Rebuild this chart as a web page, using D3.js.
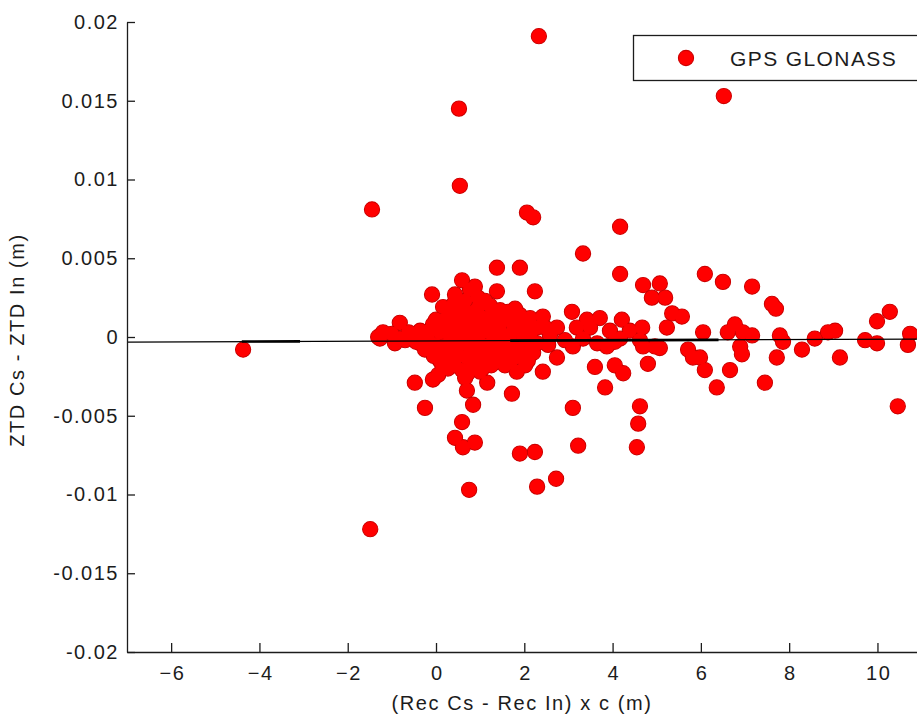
<!DOCTYPE html>
<html>
<head>
<meta charset="utf-8">
<script src="https://cdn.jsdelivr.net/npm/d3@7"></script>
<style>
  body { margin: 0; background: #fff; }
  svg { display: block; }
</style>
</head>
<body>
<script>
// scattered / outlying points  [recDiff (m), ztdDiff (m)]
var sparsePts = [
  [2.33,0.0191],[0.52,0.0145],[6.52,0.0153],[0.54,0.0096],[-1.45,0.0081],[2.06,0.0079],
  [2.20,0.0076],[4.17,0.0070],[3.33,0.0053],[4.17,0.0040],[1.38,0.0044],[1.90,0.0044],
  [2.24,0.0029],[0.59,0.0036],[0.88,0.0032],[1.38,0.0029],[-0.09,0.0027],[0.16,0.0019],
  [-0.82,0.0009],[-1.20,0.0003],[-1.31,0.0000],
  [-4.37,-0.0008],[-1.49,-0.0122],[0.75,-0.0097],[2.29,-0.0095],[2.72,-0.0090],[1.90,-0.0074],
  [2.24,-0.0073],[3.22,-0.0069],[3.10,-0.0045],[4.55,-0.0070],[4.58,-0.0055],[4.62,-0.0044],
  [0.59,-0.0054],[0.43,-0.0064],[0.61,-0.0070],[0.88,-0.0067],[-0.25,-0.0045],[-0.48,-0.0029],
  [-0.07,-0.0027],[0.05,-0.0024],[0.70,-0.0034],[0.84,-0.0043],[1.16,-0.0029],[1.72,-0.0036]
];

// dense cluster around 0..2.3 m
var corePts = [
  [-1.27,-0.0001],[-1.00,0.0002],[-0.70,-0.0002],[-0.54,0.0001],[-0.36,0.0004],[-0.36,-0.0004],
  [-0.18,-0.0001],[-0.07,0.0008],[0.00,-0.0005],[0.09,0.0003],[0.20,0.0011],[0.20,-0.0010],
  [0.32,-0.0002],[0.36,0.0006],[0.43,-0.0013],[0.50,0.0014],[0.54,-0.0005],[0.59,0.0003],
  [0.66,0.0023],[0.72,0.0011],[0.77,-0.0008],[0.82,-0.0018],[0.91,0.0017],[0.95,-0.0001],
  [1.00,0.0008],[1.04,-0.0011],[1.11,0.0023],[1.18,-0.0005],[1.22,0.0003],[1.27,0.0014],
  [1.34,-0.0016],[1.40,-0.0002],[1.45,0.0008],[1.56,-0.0008],[1.63,0.0016],[1.68,0.0001],
  [1.72,0.0010],[1.79,-0.0013],[1.86,-0.0005],[1.90,0.0014],[1.95,0.0004],[2.02,-0.0018],
  [2.08,-0.0002],[2.13,0.0012],[2.20,-0.0010],[2.29,0.0006],
  [0.32,0.0017],[0.43,0.0027],[0.77,0.0030],[0.09,-0.0015],[0.27,-0.0020],[0.59,-0.0021],
  [1.00,-0.0022],[1.56,-0.0018],[1.83,-0.0022],[2.08,-0.0015],[-0.25,-0.0008],[-0.93,-0.0004],
  [0.77,0.0001],[1.22,0.0020],[1.45,0.0017],[1.79,0.0018],[0.66,-0.0026],[0.43,-0.0018],
  [0.05,0.0005],[0.14,-0.0006],[0.25,0.0004],[0.30,0.0009],[0.38,-0.0008],[0.45,0.0002],
  [0.48,0.0009],[0.52,-0.0012],[0.62,0.0007],[0.64,-0.0003],[0.68,0.0016],[0.70,-0.0013],
  [0.80,0.0005],[0.84,0.0013],[0.86,-0.0005],[0.90,-0.0014],[0.98,0.0020],[1.02,0.0003],
  [1.08,0.0012],[1.10,-0.0006],[1.14,-0.0016],[1.16,0.0007],[1.28,-0.0010],[1.30,0.0006],
  [1.36,0.0011],[1.42,-0.0008],[1.50,0.0002],[1.52,-0.0013],[1.58,0.0011],[1.62,-0.0004],
  [1.74,-0.0006],[1.76,0.0005],[1.84,0.0009],[1.92,-0.0010],[1.98,0.0000],[2.04,0.0008],
  [2.14,0.0002],[2.16,-0.0005],[0.58,0.0019],[0.40,0.0021],[0.95,0.0025],[1.05,-0.0020],
  [0.72,-0.0023],[0.36,-0.0016],[-0.15,0.0004],[-0.28,0.0000],[-0.45,-0.0003],[0.00,0.0011],
  [-0.05,-0.0012],[0.15,-0.0019],[-0.62,0.0003],[-0.82,-0.0001],[1.25,-0.0018],[1.68,-0.0016]
];

// points to the east of the cluster
var eastPts = [
  [3.08,0.0016],[2.42,0.0013],[2.74,0.0006],[3.42,0.0011],[3.71,0.0012],[4.21,0.0011],
  [4.67,0.0006],[4.39,0.0004],[3.94,0.0004],[3.49,0.0006],[3.19,0.0006],[2.29,-0.0004],
  [2.74,-0.0013],[2.42,-0.0022],[3.10,-0.0006],[3.65,-0.0004],[3.87,-0.0006],[5.07,-0.0007],
  [2.58,0.0001],[2.92,-0.0002],[3.33,-0.0001],[4.17,-0.0001],[4.05,-0.0003],[4.62,-0.0002],
  [2.47,0.0006],[2.54,-0.0005],
  [3.60,-0.0019],[4.05,-0.0018],[4.24,-0.0023],[3.83,-0.0032],[4.96,-0.0006],[4.69,-0.0006],
  [4.80,-0.0017],
  [4.69,0.0033],[5.07,0.0034],[4.89,0.0025],[5.19,0.0025],[6.09,0.0040],[6.50,0.0035],
  [7.16,0.0032],[7.61,0.0021],[7.70,0.0018],[5.35,0.0015],[5.57,0.0013],[5.23,0.0006],
  [6.05,0.0003],[6.77,0.0008],[6.61,0.0003],[6.95,0.0003],[7.16,0.0001],[6.89,-0.0006],
  [6.93,-0.0011],[7.79,0.0001],[7.86,-0.0003],[7.72,-0.0013],[8.29,-0.0008],[8.58,-0.0001],
  [8.88,0.0003],[9.04,0.0004],[9.15,-0.0013],[9.72,-0.0002],[9.99,-0.0004],[9.99,0.0010],
  [10.28,0.0016],[10.74,0.0002],[10.69,-0.0005],[10.46,-0.0044],[6.09,-0.0021],[6.66,-0.0021],
  [6.36,-0.0032],[7.45,-0.0029],[5.71,-0.0008],[5.82,-0.0013],[5.98,-0.0013]
];

// fitted line, and the parts of it that look heavier in the picture
var fitLine = [[-7,-0.00032],[11,-0.00013]];
var fitHeavy = [
  [[-4.40,-0.00029],[-3.08,-0.00028]],
  [[1.68,-0.00023],[6.40,-0.00018]]
];

var xTicks = [-6,-4,-2,0,2,4,6,8,10];
var yTicks = [-0.02,-0.015,-0.01,-0.005,0,0.005,0.01,0.015,0.02];
var yTickLabels = ["-0.02","-0.015","-0.01","-0.005","0","0.005","0.01","0.015","0.02"];

var width = 917,
    height = 717;

var svg = d3.select("body").append("svg")
    .attr("width", width)
    .attr("height", height);

var x = d3.scaleLinear().domain([-7, 11]).range([127, 921.6]);
var y = d3.scaleLinear().domain([-0.02, 0.02]).range([652, 22]);

var font = "'Liberation Sans', Arial, sans-serif";
var ink = "#1c1c1c";

// points: outlined pass, then a fill pass on top so overlaps merge into one shape
var allPts = sparsePts.concat(corePts, eastPts);
var dots = svg.append("g");
dots.selectAll(".edge")
    .data(allPts)
    .enter()
    .append("circle")
    .attr("class", "edge")
    .attr("cx", d => x(d[0]))
    .attr("cy", d => y(d[1]))
    .attr("r", 7.6)
    .attr("fill", "#ff0000")
    .attr("stroke", "#cc0000")
    .attr("stroke-width", 1.1);
dots.selectAll(".fill")
    .data(allPts)
    .enter()
    .append("circle")
    .attr("class", "fill")
    .attr("cx", d => x(d[0]))
    .attr("cy", d => y(d[1]))
    .attr("r", 7.0)
    .attr("fill", "#ff0000");

// fit line
var line = d3.line().x(d => x(d[0])).y(d => y(d[1]));
svg.append("path")
    .attr("d", line(fitLine))
    .attr("fill", "none")
    .attr("stroke", "#000")
    .attr("stroke-width", 1.3);
svg.selectAll(".heavy")
    .data(fitHeavy)
    .enter()
    .append("path")
    .attr("class", "heavy")
    .attr("d", d => line(d))
    .attr("fill", "none")
    .attr("stroke", "#000")
    .attr("stroke-width", 2.6);

// axes
var xAxis = d3.axisBottom(x)
    .tickValues(xTicks)
    .tickFormat(d3.format("d"))
    .tickSizeInner(-9)
    .tickSizeOuter(0)
    .tickPadding(14);

var yAxis = d3.axisLeft(y)
    .tickValues(yTicks)
    .tickFormat((d, i) => yTickLabels[i])
    .tickSizeInner(-8)
    .tickSizeOuter(0)
    .tickPadding(8);

var gx = svg.append("g").attr("transform", "translate(0,652)").call(xAxis);
var gy = svg.append("g").attr("transform", "translate(127,0)").call(yAxis);

[gx, gy].forEach(function(g) {
  g.select(".domain").attr("stroke", ink).attr("stroke-width", 1.3);
  g.selectAll(".tick line").attr("stroke", ink).attr("stroke-width", 1.3);
  g.selectAll(".tick text")
    .attr("fill", ink)
    .style("font-family", font)
    .style("font-size", "20px")
    .style("letter-spacing", "1.5px");
});
gx.selectAll(".tick text").attr("dx", "0.75");

// axis titles
svg.append("text")
    .attr("x", 522)
    .attr("y", 710)
    .attr("text-anchor", "middle")
    .attr("fill", ink)
    .style("font-family", font)
    .style("font-size", "20px")
    .style("letter-spacing", "1.6px")
    .text("(Rec Cs - Rec In) x c (m)");

svg.append("text")
    .attr("transform", "translate(24,340) rotate(-90)")
    .attr("text-anchor", "middle")
    .attr("fill", ink)
    .style("font-family", font)
    .style("font-size", "20px")
    .style("letter-spacing", "1.6px")
    .text("ZTD Cs - ZTD In (m)");

// legend
var legend = svg.append("g");
legend.append("rect")
    .attr("x", 633.5)
    .attr("y", 35.5)
    .attr("width", 300)
    .attr("height", 45)
    .attr("fill", "#fff")
    .attr("stroke", ink)
    .attr("stroke-width", 1.3);
legend.append("circle")
    .attr("cx", 686)
    .attr("cy", 58)
    .attr("r", 7.6)
    .attr("fill", "#ff0000")
    .attr("stroke", "#cc0000")
    .attr("stroke-width", 1.1);
legend.append("text")
    .attr("x", 730)
    .attr("y", 66)
    .attr("fill", ink)
    .style("font-family", font)
    .style("font-size", "21px")
    .style("letter-spacing", "1.4px")
    .text("GPS GLONASS");
</script>
</body>
</html>
